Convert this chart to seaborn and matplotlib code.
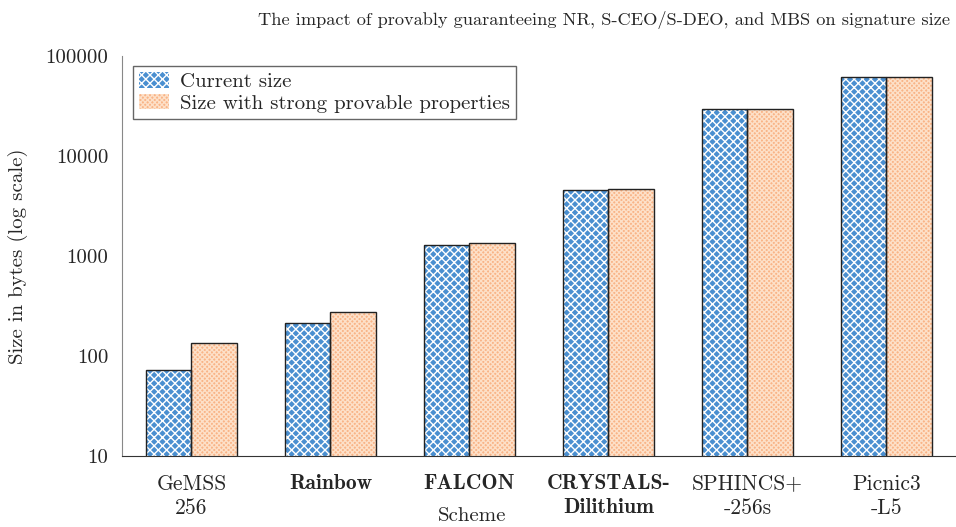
import numpy as np
import pandas as pd
import matplotlib.pyplot as plt
import matplotlib.ticker as mticker
from matplotlib.patches import Rectangle
import seaborn as sns

schemes = ['GeMSS\n256', 'Rainbow', 'FALCON', 'CRYSTALS-\nDilithium', 'SPHINCS+\n-256s', 'Picnic3\n-L5']
bold_schemes = ['Rainbow', 'FALCON', 'CRYSTALS-\nDilithium']
current_size = [72, 212, 1280, 4595, 29792, 61028]
strong_size = [136, 276, 1360, 4627, 29792, 61028]
series = ['Current size', 'Size with strong provable properties']

df = pd.DataFrame({
    'scheme': schemes * 2,
    'size': current_size + strong_size,
    'kind': [series[0]] * len(schemes) + [series[1]] * len(schemes),
})

sns.set_style('white')
plt.rcParams['font.family'] = ['cmr10', 'DejaVu Serif']
plt.rcParams['axes.unicode_minus'] = False
plt.rcParams['hatch.linewidth'] = 1.0

face = {series[0]: '#4a8fd0', series[1]: '#f9b487'}
hatch_col = {series[0]: 'white', series[1]: '#fde0c8'}
hatch_pat = {series[0]: 'xxxx', series[1]: 'xxxxxxx'}
fs = 15

fig = plt.figure(figsize=(9.56, 5.27), dpi=100)
ax = fig.add_axes([0.1276, 0.1347, 0.8724, 0.7590])

sns.barplot(data=df, x='scheme', y='size', hue='kind', palette=face,
            width=0.66, saturation=1, ax=ax, legend=False)
ax.set_yscale('log')

# hatch fill without outline, then a dark outline on top
for container, name in zip(ax.containers, series):
    for p in container.patches:
        p.set_hatch(hatch_pat[name])
        p.set_edgecolor(hatch_col[name])
        p.set_linewidth(0)
        ax.add_patch(Rectangle(p.get_xy(), p.get_width(), p.get_height(),
                               fill=False, edgecolor='#222222', linewidth=1.0, zorder=3))

ax.set_ylim(10, 100000)
ax.set_xlim(-0.5, 5.5)
ax.yaxis.set_major_locator(mticker.FixedLocator([10, 100, 1000, 10000, 100000]))
ax.yaxis.set_major_formatter(mticker.FuncFormatter(lambda v, _: f'{int(round(v))}'))
ax.yaxis.set_minor_locator(mticker.NullLocator())
ax.tick_params(axis='both', length=0, labelsize=fs)
ax.tick_params(axis='y', pad=10)
ax.tick_params(axis='x', pad=13, labelsize=15.5)

for lab in ax.get_xticklabels():
    if lab.get_text() in bold_schemes:
        lab.set_fontfamily('cmb10')
        lab.set_fontsize(15.5)
    lab.set_linespacing(1.3)

ax.set_xlabel('Scheme', fontsize=fs)
ax.xaxis.set_label_coords(0.42, -0.128)
ax.set_ylabel('Size in bytes (log scale)', fontsize=fs)
ax.yaxis.set_label_coords(-0.113, 0.5)
title = ax.set_title('The impact of provably guaranteeing NR, S-CEO/S-DEO, and MBS on signature size',
                     fontsize=13.2, pad=22)
title.set_x(0.578)

for s in ['top', 'right']:
    ax.spines[s].set_visible(False)
ax.spines['left'].set_color('#888888')
ax.spines['bottom'].set_color('#333333')

handles = [Rectangle((0, 0), 1, 1, facecolor=face[n], hatch=hatch_pat[n],
                     edgecolor=hatch_col[n], linewidth=0) for n in series]
leg = ax.legend(handles, series, loc='upper left', bbox_to_anchor=(0.013, 0.975),
                fontsize=fs, frameon=True, fancybox=False, framealpha=1,
                edgecolor='#666666', borderpad=0.3, handlelength=1.45, handleheight=0.75,
                handletextpad=0.5, labelspacing=0.12, borderaxespad=0)
leg.get_frame().set_linewidth(1.0)

fig.savefig('out.png', dpi=100)
